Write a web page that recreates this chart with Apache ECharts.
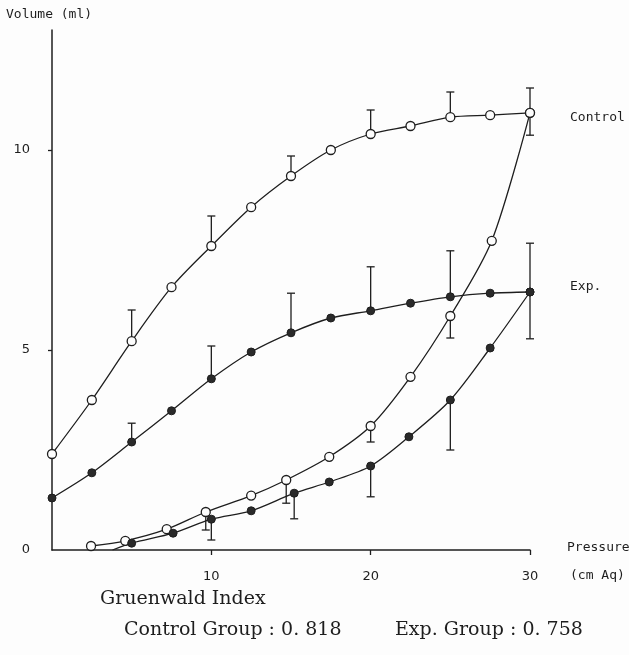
<!DOCTYPE html>
<html>
<head>
<meta charset="utf-8">
<script src="https://cdn.jsdelivr.net/npm/echarts@6/dist/echarts.min.js"></script>
<style>
  html, body { margin: 0; padding: 0; background: #fdfdfd; }
  #myChart { width: 629px; height: 655px; }
</style>
</head>
<body>
<div id="myChart"></div>
<script>
// inflation limb (upper curves), x = pressure
let pressureInfl = [0, 2.5, 5, 7.5, 10, 12.5, 15, 17.5, 20, 22.5, 25, 27.5, 30];
let controlInfl = [2.4, 3.75, 5.22, 6.57, 7.6, 8.57, 9.35, 10.0, 10.4, 10.6, 10.82, 10.87, 10.93];
let expInfl = [1.3, 1.93, 2.7, 3.48, 4.28, 4.95, 5.43, 5.8, 5.98, 6.17, 6.33, 6.42, 6.45];

// deflation limb (lower curves), [pressure, volume]
let controlDefl = [[2.45, 0.1], [4.6, 0.23], [7.2, 0.52], [9.65, 0.95], [12.5, 1.36], [14.7, 1.75],
  [17.4, 2.33], [20, 3.1], [22.5, 4.33], [25, 5.85], [27.6, 7.73], [30, 10.93]];
let expDeflStart = [3.8, 0];
let expDefl = [[5, 0.17], [7.6, 0.42], [10, 0.77], [12.5, 0.98], [15.2, 1.42], [17.4, 1.7],
  [20, 2.1], [22.4, 2.83], [25, 3.75], [27.5, 5.05], [30, 6.45]];

// error bars [pressure, low, high]
let controlBars = [[5, 5.22, 6.0], [10, 7.6, 8.35], [15, 9.35, 9.85], [20, 10.4, 11.0], [25, 10.82, 11.45], [30, 10.37, 11.55],
  [9.65, 0.5, 0.95], [14.7, 1.17, 1.75], [20, 2.7, 3.1], [25, 5.3, 5.85]];
let expBars = [[5, 2.7, 3.17], [10, 4.28, 5.1], [15, 5.43, 6.42], [20, 5.98, 7.08], [25, 6.33, 7.48], [30, 5.28, 7.67],
  [10, 0.25, 0.77], [15.2, 0.78, 1.42], [20, 1.33, 2.1], [25, 2.5, 3.75]];

let yTicks = [0, 5, 10];
let xTicks = [10, 20, 30];

let ink = '#1e1e1e';
let mono = '"DejaVu Sans Mono", monospace';
let serif = '"DejaVu Serif", "Liberation Serif", serif';

function pairs(xs, ys) {
  return xs.map((x, i) => [x, ys[i]]);
}

function lineSeries(name, data, open) {
  return {
    name: name,
    type: 'line',
    data: data,
    smooth: 0.3,
    symbol: 'circle',
    symbolSize: open ? 9 : 8,
    showSymbol: true,
    lineStyle: { color: ink, width: 1.3 },
    itemStyle: open
      ? { color: '#fdfdfd', borderColor: ink, borderWidth: 1.3 }
      : { color: '#2a2a2a', borderColor: ink, borderWidth: 1 },
    z: 3,
    animation: false,
  };
}

function barSeries(data) {
  return {
    type: 'custom',
    data: data,
    z: 2,
    animation: false,
    renderItem: function (params, api) {
      let lo = api.coord([api.value(0), api.value(1)]);
      let hi = api.coord([api.value(0), api.value(2)]);
      let st = { stroke: ink, lineWidth: 1.3 };
      return {
        type: 'group',
        children: [
          { type: 'line', shape: { x1: lo[0], y1: lo[1], x2: hi[0], y2: hi[1] }, style: st },
          { type: 'line', shape: { x1: lo[0] - 4, y1: lo[1], x2: lo[0] + 4, y2: lo[1] }, style: st },
          { type: 'line', shape: { x1: hi[0] - 4, y1: hi[1], x2: hi[0] + 4, y2: hi[1] }, style: st },
        ],
      };
    },
  };
}

let myChart = echarts.init(document.getElementById('myChart'));
let expDeflData = [{ value: expDeflStart, symbol: 'none' }].concat(expDefl);

let option = {
  backgroundColor: '#fdfdfd',
  grid: { left: 52, right: 99, top: 30, bottom: 105 },
  xAxis: {
    type: 'value',
    min: 0,
    max: 30,
    interval: 10,
    splitLine: { show: false },
    axisLine: { lineStyle: { color: ink, width: 1.5 } },
    axisTick: { show: true, length: 5, customValues: xTicks, lineStyle: { color: ink, width: 1.3 } },
    axisLabel: { customValues: xTicks, color: ink, fontFamily: '"DejaVu Sans", sans-serif', fontSize: 13, margin: 20 },
  },
  yAxis: {
    type: 'value',
    min: 0,
    max: 13,
    interval: 5,
    splitLine: { show: false },
    axisLine: { lineStyle: { color: ink, width: 1.5 } },
    axisTick: { show: true, length: 4, customValues: [5, 10], lineStyle: { color: ink, width: 1.3 } },
    axisLabel: { customValues: yTicks, color: ink, fontFamily: '"DejaVu Sans", sans-serif', fontSize: 13, margin: 22 },
  },
  graphic: [
    { type: 'text', left: 6, top: 8, style: { text: 'Volume (ml)', font: '13px ' + mono, fill: ink } },
    { type: 'text', left: 570, top: 111, style: { text: 'Control', font: '13px ' + mono, fill: ink } },
    { type: 'text', left: 570, top: 280, style: { text: 'Exp.', font: '13px ' + mono, fill: ink } },
    { type: 'text', left: 567, top: 541, style: { text: 'Pressure', font: '13px ' + mono, fill: ink } },
    { type: 'text', left: 570, top: 569, style: { text: '(cm Aq)', font: '13px ' + mono, fill: ink } },
    { type: 'text', left: 100, top: 590, style: { text: 'Gruenwald Index', font: '19px ' + serif, fill: ink } },
    { type: 'text', left: 124, top: 621, style: { text: 'Control Group : 0. 818', font: '19px ' + serif, fill: ink } },
    { type: 'text', left: 395, top: 621, style: { text: 'Exp. Group : 0. 758', font: '19px ' + serif, fill: ink } },
  ],
  series: [
    barSeries(controlBars),
    barSeries(expBars),
    lineSeries('Control', pairs(pressureInfl, controlInfl), true),
    lineSeries('Exp.', pairs(pressureInfl, expInfl), false),
    lineSeries('Control deflation', controlDefl, true),
    lineSeries('Exp. deflation', expDeflData, false),
  ],
};
myChart.setOption(option);
</script>
</body>
</html>
